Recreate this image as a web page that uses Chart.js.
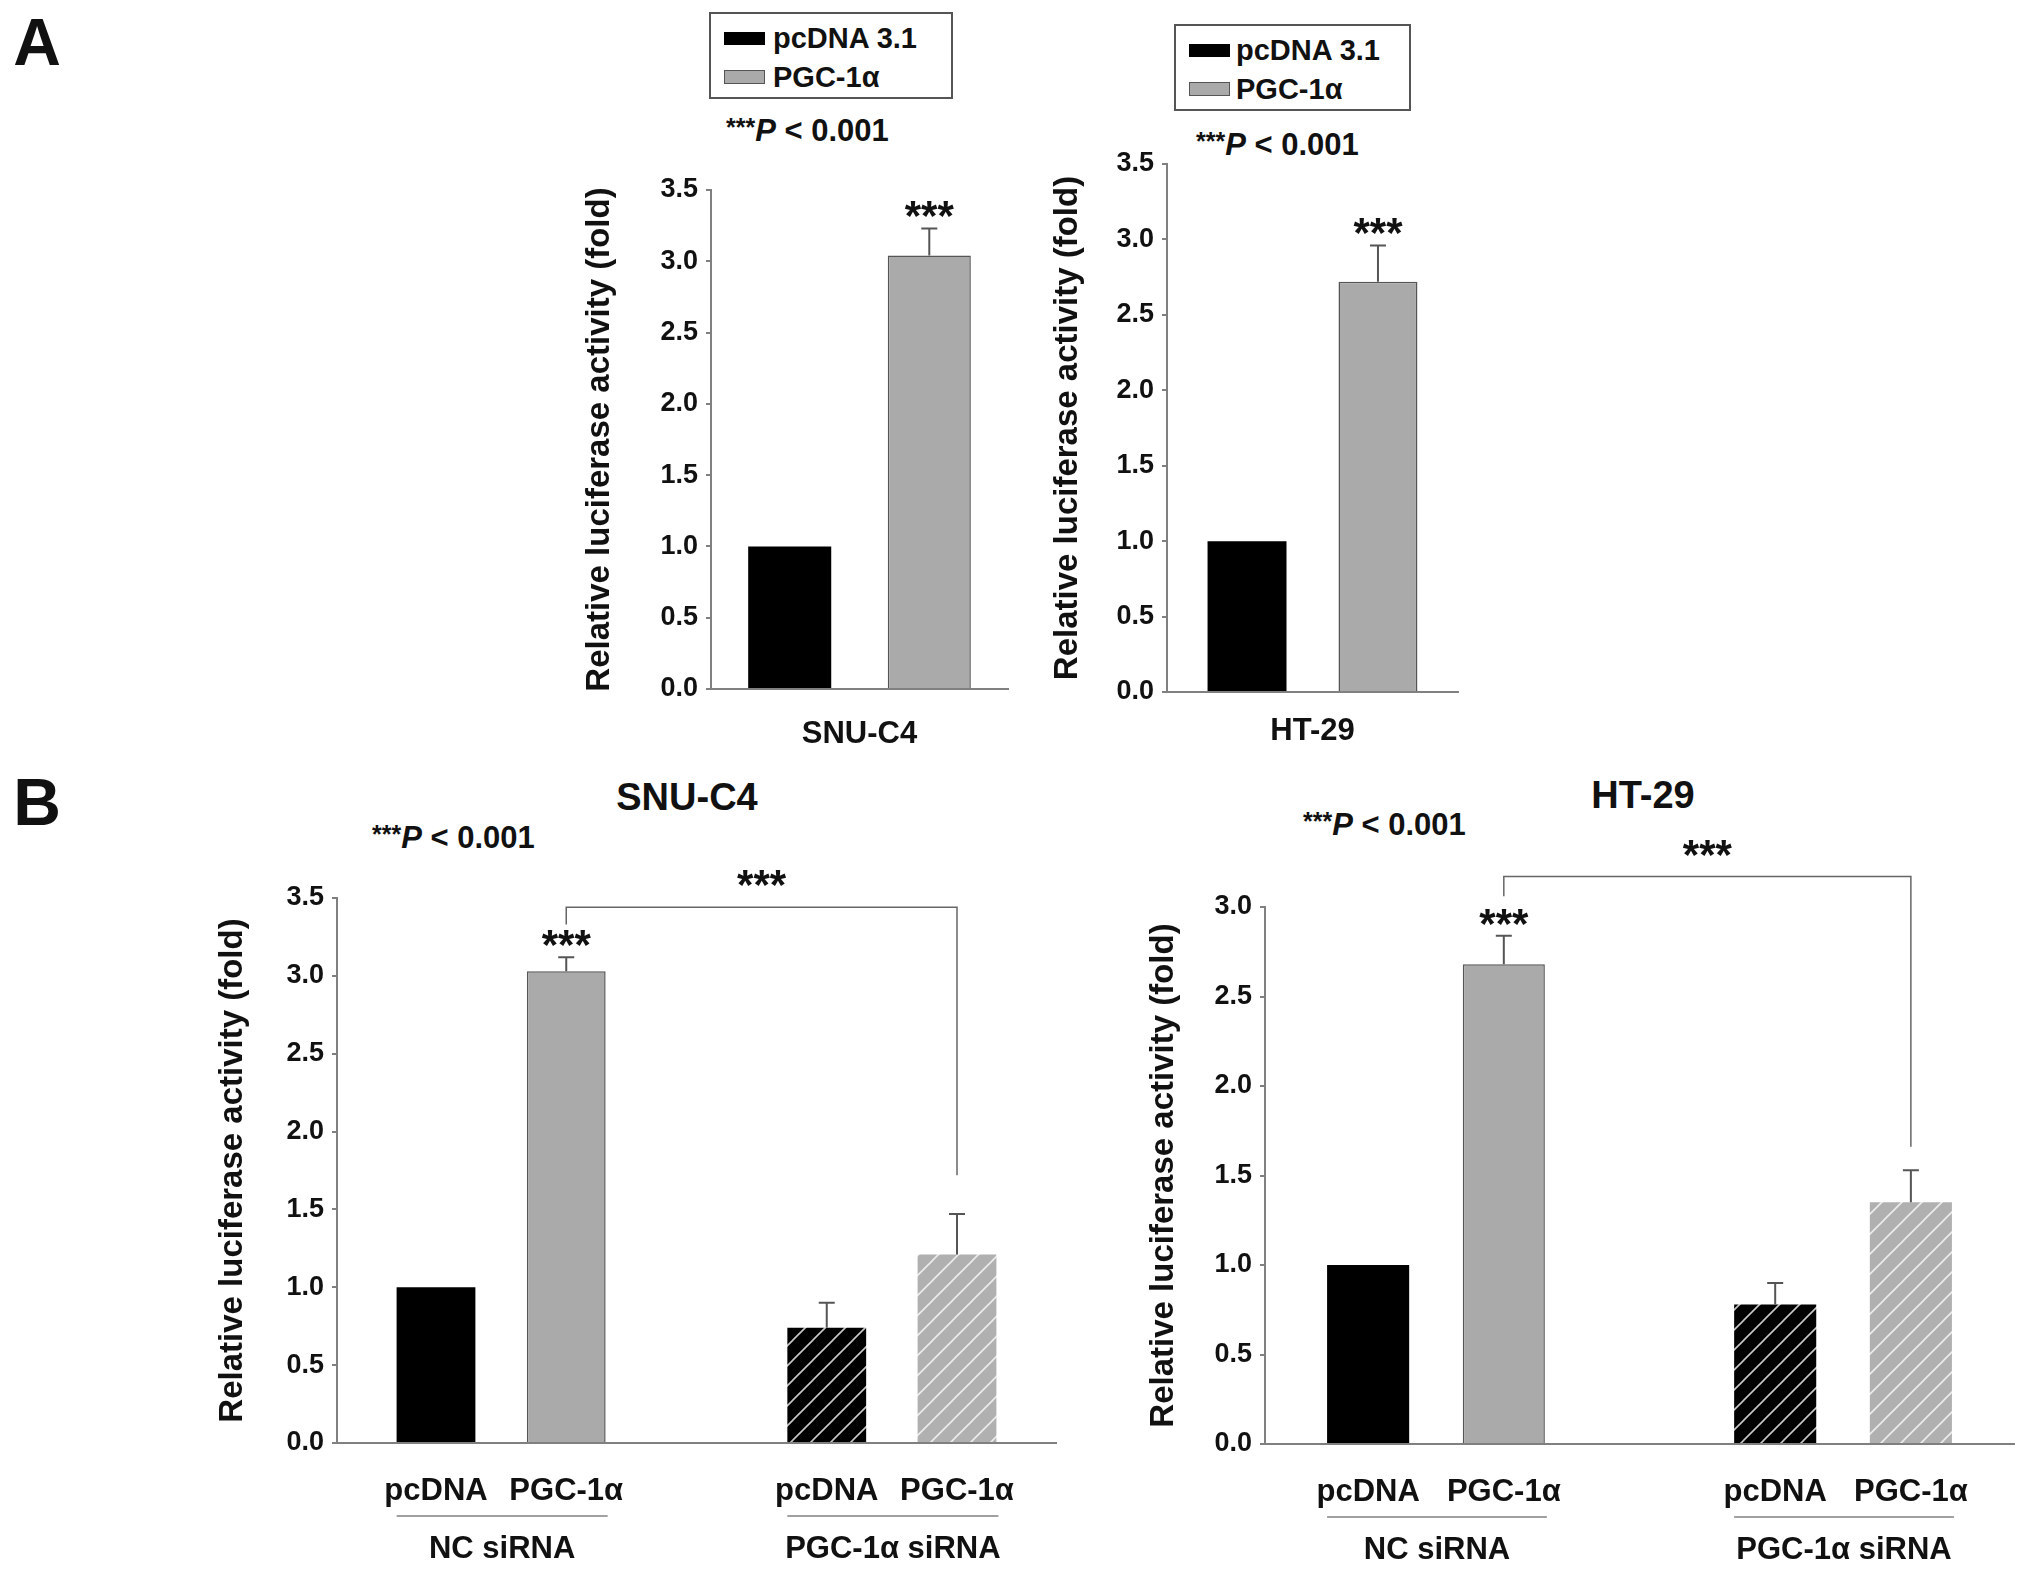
<!DOCTYPE html>
<html>
<head>
<meta charset="utf-8">
<script src="https://cdn.jsdelivr.net/npm/chart.js@4.4.1/dist/chart.umd.min.js"></script>
<style>
  html, body { margin:0; padding:0; background:#fff; }
  body { width:2031px; height:1574px; position:relative; overflow:hidden;
         font-family:"Liberation Sans", Arial, sans-serif; font-weight:bold; color:#111; }
  canvas { position:absolute; }
  .t { position:absolute; white-space:nowrap; transform:translate(-50%,-50%); }
  .tl { position:absolute; white-space:nowrap; transform:translate(0,-50%); font-size:31px; }
  .tl .s { font-size:25px; vertical-align:5px; }
  .legend { position:absolute; border:2px solid #555; box-sizing:border-box; }
  .sw { position:absolute; width:41px; height:13px; box-sizing:border-box; }
  .lt { position:absolute; font-size:29px; transform:translate(0,-50%); white-space:nowrap; }
</style>
</head>
<body>
<div class="t" style="left:37px;top:42px;font-size:66px;">A</div>
<div class="t" style="left:37px;top:802px;font-size:66px;">B</div>

<div class="legend" style="left:709px;top:12px;width:244px;height:87px;">
  <div class="sw" style="left:13px;top:18px;background:#000;"></div>
  <div class="lt" style="left:62px;top:24px;">pcDNA 3.1</div>
  <div class="sw" style="left:13px;top:56px;height:14px;background:#aaa;border:1.5px solid #555;"></div>
  <div class="lt" style="left:62px;top:63px;">PGC-1α</div>
</div>
<div class="legend" style="left:1174px;top:24px;width:237px;height:87px;">
  <div class="sw" style="left:13px;top:18px;background:#000;"></div>
  <div class="lt" style="left:60px;top:24px;">pcDNA 3.1</div>
  <div class="sw" style="left:13px;top:56px;height:14px;background:#aaa;border:1.5px solid #555;"></div>
  <div class="lt" style="left:60px;top:63px;">PGC-1α</div>
</div>

<div class="tl" style="left:726px;top:131px;"><span class="s">***</span><i>P</i> &lt; 0.001</div>
<div class="tl" style="left:1196px;top:145px;"><span class="s">***</span><i>P</i> &lt; 0.001</div>
<div class="tl" style="left:372px;top:838px;"><span class="s">***</span><i>P</i> &lt; 0.001</div>
<div class="tl" style="left:1303px;top:825px;"><span class="s">***</span><i>P</i> &lt; 0.001</div>

<div class="t" style="left:687px;top:797px;font-size:38px;">SNU-C4</div>
<div class="t" style="left:1643px;top:795px;font-size:38px;">HT-29</div>

<canvas id="aL" width="447" height="600" style="left:580px;top:160px;"></canvas>
<canvas id="aR" width="449" height="630" style="left:1048px;top:130px;"></canvas>
<canvas id="bL" width="854" height="754" style="left:213px;top:820px;"></canvas>
<canvas id="bR" width="884" height="754" style="left:1144px;top:820px;"></canvas>

<script>
// ---------------- DATA ----------------
const seriesNames = ['pcDNA 3.1', 'PGC-1α'];
// Panel A
const aSnuCategory = ['SNU-C4'];
const aSnuValues = [1.0, 3.04];
const aSnuErrors = [0, 0.19];
const aHtCategory = ['HT-29'];
const aHtValues = [1.0, 2.72];
const aHtErrors = [0, 0.24];
const aTickLabels = ['0.0','0.5','1.0','1.5','2.0','2.5','3.0','3.5'];
// Panel B
const bGroups = ['NC siRNA', 'PGC-1α siRNA'];
const bConditions = ['pcDNA', 'PGC-1α'];
const bSnuValues = [1.0, 3.03, 0.74, 1.21];
const bSnuErrors = [0.0, 0.09, 0.16, 0.26];
const bHtValues = [1.0, 2.68, 0.78, 1.35];
const bHtErrors = [0.0, 0.16, 0.12, 0.18];
const bSnuTickLabels = ['0.0','0.5','1.0','1.5','2.0','2.5','3.0','3.5'];
const bHtTickLabels = ['0.0','0.5','1.0','1.5','2.0','2.5','3.0'];
// significance bracket: [from bar, to bar, top value, left end value, right end value]
const bSnuBracket = [1, 3, 3.44, 3.33, 1.72];
const bHtBracket = [1, 3, 3.17, 3.06, 1.66];
const yTitle = 'Relative luciferase activity (fold)';
const starText = '***';

// ---------------- STYLE ----------------
const FONT = '"Liberation Sans", Arial, sans-serif';
const AXIS = '#808080';
const GRAY = '#aaaaaa';
const EDGE = '#555555';

function hatch(bg, line) {
  const c = document.createElement('canvas');
  c.width = 20; c.height = 20;
  const g = c.getContext('2d');
  g.fillStyle = bg; g.fillRect(0, 0, 20, 20);
  g.strokeStyle = line; g.lineWidth = 1.6;
  [[-5,25,25,-5],[-5,5,5,-5],[15,25,25,15]].forEach(s => {
    g.beginPath(); g.moveTo(s[0], s[1]); g.lineTo(s[2], s[3]); g.stroke();
  });
  return g.createPattern(c, 'repeat');
}

// error bars, stars, brackets and group labels drawn from the scales
const annot = {
  id: 'annot',
  afterDatasetsDraw(chart, args, o) {
    const ctx = chart.ctx;
    const ys = chart.scales.y;
    ctx.save();
    ctx.strokeStyle = EDGE; ctx.lineWidth = 2;
    const tops = {};
    chart.data.datasets.forEach((ds, di) => {
      const meta = chart.getDatasetMeta(di);
      meta.data.forEach((el, j) => {
        const err = o.errors[di][j];
        const d = ds.data[j];
        const v = (d !== null && typeof d === 'object') ? d.y : d;
        const yE = ys.getPixelForValue(v + err);
        tops[di + ':' + j] = { x: el.x, y: yE, w: el.width };
        if (err > 0) {
          ctx.beginPath();
          ctx.moveTo(el.x, el.y); ctx.lineTo(el.x, yE);
          ctx.moveTo(el.x - 8, yE); ctx.lineTo(el.x + 8, yE);
          ctx.stroke();
        }
      });
    });
    ctx.fillStyle = '#111';
    ctx.font = 'bold 42px ' + FONT;
    ctx.textAlign = 'center';
    ctx.textBaseline = 'alphabetic';
    (o.stars || []).forEach(s => {
      const t = tops[s[0] + ':' + s[1]];
      ctx.fillText(starText, t.x, t.y + 2);
    });
    if (o.bracket) {
      const b = o.bracket;
      const m = chart.getDatasetMeta(0).data;
      const x1 = m[b[0]].x, x2 = m[b[1]].x;
      const yT = ys.getPixelForValue(b[2]);
      ctx.strokeStyle = '#666'; ctx.lineWidth = 1.5;
      ctx.beginPath();
      ctx.moveTo(x1, ys.getPixelForValue(b[3]));
      ctx.lineTo(x1, yT); ctx.lineTo(x2, yT);
      ctx.lineTo(x2, ys.getPixelForValue(b[4]));
      ctx.stroke();
      ctx.fillText(starText, (x1 + x2) / 2, yT - 8);
    }
    if (o.groups) {
      const m = chart.getDatasetMeta(0).data;
      const bottom = chart.chartArea.bottom;
      ctx.font = 'bold 31px ' + FONT;
      ctx.textBaseline = 'middle';
      o.groups.forEach((g, gi) => {
        const first = m[gi * bConditions.length];
        const last = m[gi * bConditions.length + bConditions.length - 1];
        const l = first.x - first.width / 2, r = last.x + last.width / 2 + 2;
        ctx.strokeStyle = AXIS; ctx.lineWidth = 1.5;
        ctx.beginPath(); ctx.moveTo(l, bottom + 73); ctx.lineTo(r, bottom + 73); ctx.stroke();
        ctx.fillText(g, (l + r) / 2, bottom + 106);
      });
    }
    ctx.restore();
  }
};

function yScale(max, tickLabels, width) {
  return {
    min: 0, max: max,
    ticks: { stepSize: 0.5, autoSkip: false, color: '#111', padding: 8,
             font: { family: FONT, size: 27, weight: 'bold' },
             callback: (v, i) => tickLabels[i] },
    grid: { display: true, drawOnChartArea: false, drawTicks: true, tickLength: 5,
            color: AXIS, lineWidth: 2 },
    border: { display: true, color: AXIS, width: 2 },
    title: { display: true, text: yTitle, color: '#111', padding: 0,
             font: { family: FONT, size: 33, weight: 'bold' } },
    afterFit: s => { s.width = width; }
  };
}

function panelA(id, cat, values, errors, pad, yWidth, xHeight, xPad, cp, bp) {
  const ctx = document.getElementById(id).getContext('2d');
  return new Chart(ctx, {
    type: 'bar',
    data: {
      labels: cat,
      datasets: [
        { label: seriesNames[0], data: [values[0]], backgroundColor: '#000', borderWidth: 0,
          categoryPercentage: cp, barPercentage: bp },
        { label: seriesNames[1], data: [values[1]], backgroundColor: GRAY, borderColor: EDGE,
          borderWidth: 1.5, categoryPercentage: cp, barPercentage: bp }
      ]
    },
    options: {
      responsive: false, animation: false,
      layout: { padding: pad },
      plugins: { legend: { display: false }, tooltip: { enabled: false },
                 annot: { errors: [[errors[0]], [errors[1]]], stars: [[1, 0]] } },
      scales: {
        x: { grid: { display: false }, border: { display: true, color: AXIS, width: 2 },
             ticks: { color: '#111', padding: xPad, font: { family: FONT, size: 31, weight: 'bold' } },
             afterFit: s => { s.height = xHeight; } },
        y: yScale(3.5, aTickLabels, yWidth)
      }
    },
    plugins: [annot]
  });
}

function panelB(id, values, errors, yMax, tickLabels, bracket, pad, yWidth, xHeight) {
  const ctx = document.getElementById(id).getContext('2d');
  const slots = [];
  const labels = [];
  bGroups.forEach((g, gi) => bConditions.forEach((c, ci) => {
    slots.push(gi * (bConditions.length + 1) + ci + 1);
    labels.push(c);
  }));
  const black = '#000';
  return new Chart(ctx, {
    type: 'bar',
    data: {
      datasets: [{
        data: values.map((v, i) => ({ x: slots[i], y: v })),
        backgroundColor: [black, GRAY, hatch('#000', '#c8c8c8'), hatch('#b0b0b0', '#ececec')],
        borderColor: [black, EDGE, black, '#b0b0b0'],
        borderWidth: [0, 1.5, 0, 0],
        categoryPercentage: 1, barPercentage: 0.605
      }]
    },
    options: {
      responsive: false, animation: false,
      layout: { padding: pad },
      plugins: { legend: { display: false }, tooltip: { enabled: false },
                 annot: { errors: [errors], stars: [[0, 1]], bracket: bracket, groups: bGroups } },
      scales: {
        x: { type: 'linear', min: 0.24, max: 5.76, offset: false,
             grid: { display: false, offset: false }, border: { display: true, color: AXIS, width: 2 },
             afterBuildTicks: s => { s.ticks = slots.map(v => ({ value: v })); },
             ticks: { autoSkip: false, color: '#111', padding: 22,
                      font: { family: FONT, size: 31, weight: 'bold' },
                      callback: (v, i) => labels[i] },
             afterFit: s => { s.height = xHeight; } },
        y: yScale(yMax, tickLabels, yWidth)
      }
    },
    plugins: [annot]
  });
}

panelA('aL', aSnuCategory, aSnuValues, aSnuErrors, { top: 30, right: 19, left: 0, bottom: 0 }, 131, 71, 19, 0.94, 0.595);
panelA('aR', aHtCategory, aHtValues, aHtErrors, { top: 34, right: 39, left: 0, bottom: 0 }, 119, 68, 13, 0.90, 0.603);
panelB('bL', bSnuValues, bSnuErrors, 3.5, bSnuTickLabels, bSnuBracket, { top: 78, right: 11, left: 0, bottom: 0 }, 124, 131);
panelB('bR', bHtValues, bHtErrors, 3.0, bHtTickLabels, bHtBracket, { top: 87, right: 14, left: 0, bottom: 0 }, 121, 130);
</script>
</body>
</html>
